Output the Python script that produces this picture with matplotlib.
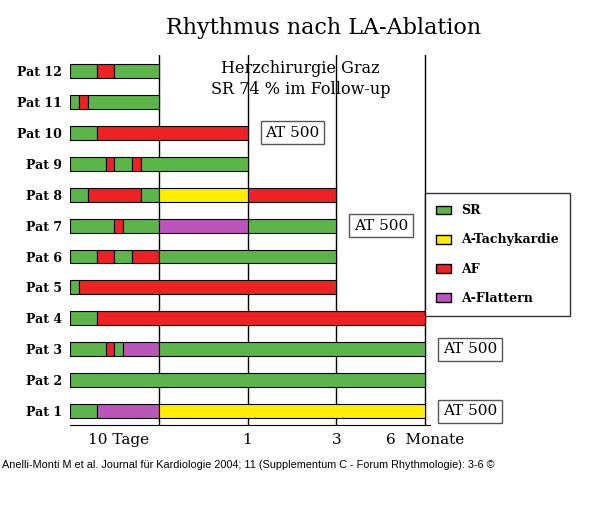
import matplotlib
matplotlib.use("Agg")
import matplotlib.pyplot as plt
from matplotlib.patches import Patch

patients = ["Pat 1","Pat 2","Pat 3","Pat 4","Pat 5","Pat 6","Pat 7","Pat 8","Pat 9","Pat 10","Pat 11","Pat 12"]
# segments: (start, end, state) on scale 0..1 = 10 Tage, 2 = 1 Monat, 3 = 3 Monate, 4 = 6 Monate
segments = [
    [(0,0.3,"SR"),(0.3,1,"AFl"),(1,4,"AT")],
    [(0,4,"SR")],
    [(0,0.4,"SR"),(0.4,0.5,"AF"),(0.5,0.6,"SR"),(0.6,1,"AFl"),(1,4,"SR")],
    [(0,0.3,"SR"),(0.3,4,"AF")],
    [(0,0.1,"SR"),(0.1,3,"AF")],
    [(0,0.3,"SR"),(0.3,0.5,"AF"),(0.5,0.7,"SR"),(0.7,1,"AF"),(1,3,"SR")],
    [(0,0.5,"SR"),(0.5,0.6,"AF"),(0.6,1,"SR"),(1,2,"AFl"),(2,3,"SR")],
    [(0,0.2,"SR"),(0.2,0.8,"AF"),(0.8,1,"SR"),(1,2,"AT"),(2,3,"AF")],
    [(0,0.4,"SR"),(0.4,0.5,"AF"),(0.5,0.7,"SR"),(0.7,0.8,"AF"),(0.8,2,"SR")],
    [(0,0.3,"SR"),(0.3,2,"AF")],
    [(0,0.1,"SR"),(0.1,0.2,"AF"),(0.2,1,"SR")],
    [(0,0.3,"SR"),(0.3,0.5,"AF"),(0.5,1,"SR")],
]
at500_patients = ["Pat 1","Pat 3","Pat 7","Pat 10"]
grid_pos = [1,2,3,4]
tick_pos = [0.55,2,3,4]
tick_labels = ["10 Tage","1","3","6  Monate"]
legend_labels = ["SR","A-Tachykardie","AF","A-Flattern"]
colors = {"SR":"#5cb548","AT":"#ffee00","AF":"#ee2222","AFl":"#bb55bb"}
legend_keys = ["SR","AT","AF","AFl"]

fig = plt.figure(figsize=(6,5.14), dpi=100)
ax = fig.add_axes([70/600, 1-425/514, 360/600, 370/514])
ax.set_xlim(0, 360/88.75)
ax.set_ylim(-0.45, 11.52)
for x in grid_pos:
    ax.axvline(x, color="black", lw=1, zorder=0)
for i, segs in enumerate(segments):
    for s, e, st in segs:
        ax.barh(i, e-s, left=s, height=0.45, color=colors[st], edgecolor="black", lw=0.8, zorder=2)
    end = segs[-1][1]
    if patients[i] in at500_patients:
        ax.text(end+0.2, i, "AT 500", fontsize=11, family="DejaVu Serif", va="center", ha="left",
                bbox=dict(boxstyle="square,pad=0.3", fc="white", ec="#555555"))
ax.set_yticks(range(len(patients)))
ax.set_yticklabels(patients, fontsize=9, fontweight="bold", family="DejaVu Serif")
ax.set_xticks(tick_pos)
ax.set_xticklabels(tick_labels, fontsize=11, family="DejaVu Serif")
ax.tick_params(length=0, pad=6)
for sp in ["top","right","left"]:
    ax.spines[sp].set_visible(False)
ax.text(2.6, 10.75, "Herzchirurgie Graz\nSR 74 % im Follow-up", ha="center", va="center",
        fontsize=11.5, family="DejaVu Serif", linespacing=1.3)
fig.text(0.54, 1-28/514, "Rhythmus nach LA-Ablation", ha="center", va="center", fontsize=16, family="DejaVu Serif")
handles = [Patch(fc=colors[k], ec="black") for k in legend_keys]
leg = fig.legend(handles, legend_labels, loc="upper left", bbox_to_anchor=(425/600, 1-193/514),
                 borderaxespad=0,
                 prop=dict(family="DejaVu Serif", weight="bold", size=9), frameon=True,
                 fancybox=False, edgecolor="black", labelspacing=1.3, borderpad=0.9, handlelength=1.2)
fig.text(0.003, 1-465/514, "Anelli-Monti M et al. Journal für Kardiologie 2004; 11 (Supplementum C - Forum Rhythmologie): 3-6 ©",
         fontsize=7.8, family="Liberation Sans", va="center")
fig.savefig("out.png", dpi=100)
